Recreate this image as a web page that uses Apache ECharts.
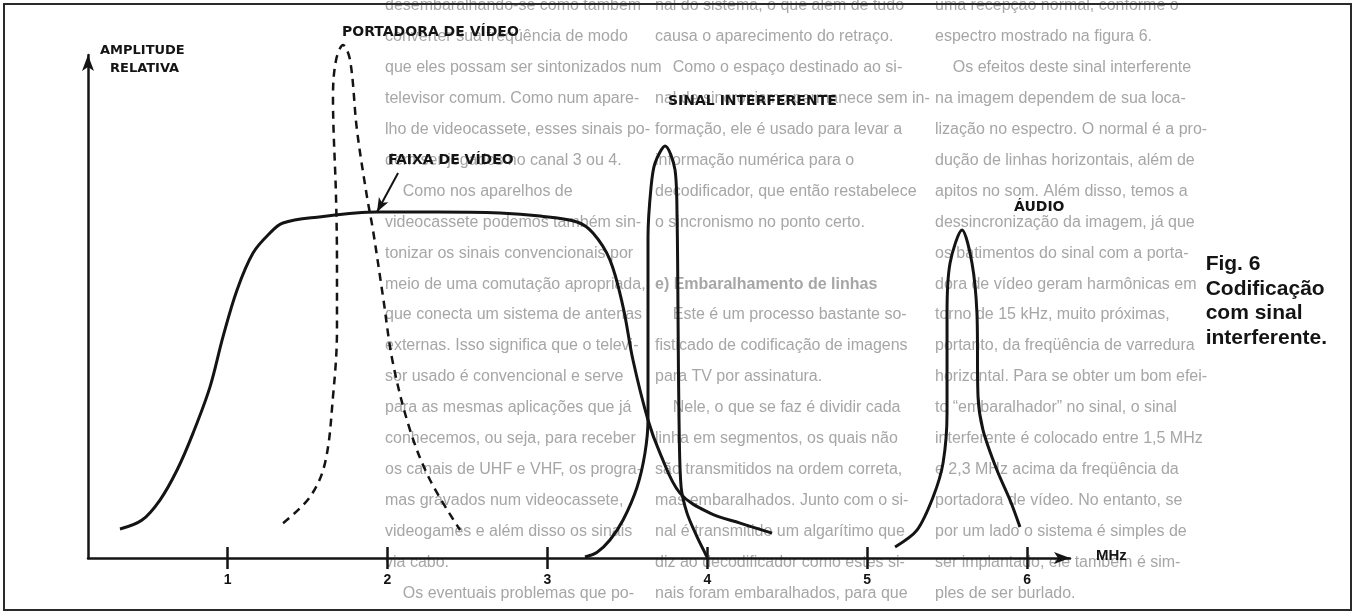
<!DOCTYPE html>
<html>
<head>
<meta charset="utf-8">
<script src="https://cdn.jsdelivr.net/npm/echarts@6/dist/echarts.min.js"></script>
<style>
  html, body { margin: 0; padding: 0; background: #ffffff; }
  #chart { width: 1356px; height: 615px; }
</style>
</head>
<body>
<div id="chart"></div>
<script>
// Frequency axis (MHz) tick labels
const mhzTicks = [1, 2, 3, 4, 5, 6];

// Video band response: [MHz, relative amplitude]
const videoBand = [
  [0.327, 0.084], [0.465, 0.110], [0.577, 0.168], [0.684, 0.255], [0.784, 0.362],
  [0.890, 0.496], [0.971, 0.641], [1.059, 0.777], [1.159, 0.884], [1.265, 0.942],
  [1.346, 0.971], [1.559, 0.988], [1.934, 1.003], [2.310, 1.003], [2.704, 1.000],
  [2.954, 0.991], [3.185, 0.974], [3.285, 0.942], [3.391, 0.864], [3.473, 0.728],
  [3.535, 0.574], [3.629, 0.400], [3.704, 0.304], [3.829, 0.188], [4.017, 0.130],
  [4.205, 0.101], [4.405, 0.072]
];

// Video carrier (dashed)
const videoCarrier = [
  [1.347, 0.101], [1.515, 0.177], [1.609, 0.275], [1.659, 0.467], [1.684, 0.661],
  [1.684, 0.855], [1.678, 1.046], [1.659, 1.336], [1.678, 1.443], [1.722, 1.487],
  [1.766, 1.443], [1.809, 1.241], [1.872, 1.046], [1.909, 0.951], [1.972, 0.757],
  [2.034, 0.565], [2.141, 0.371], [2.266, 0.226], [2.454, 0.081]
];

// Interfering signal
const interferingSignal = [
  [3.235, 0.003], [3.311, 0.017], [3.391, 0.052], [3.473, 0.110], [3.561, 0.206],
  [3.610, 0.304], [3.629, 0.400], [3.629, 0.690], [3.629, 0.930], [3.648, 1.075],
  [3.673, 1.145], [3.736, 1.194], [3.798, 1.125], [3.811, 0.980], [3.817, 0.690],
  [3.823, 0.400], [3.836, 0.206], [3.873, 0.130], [3.936, 0.061], [3.998, 0.003]
];

// Audio carrier
const audioCarrier = [
  [5.174, 0.032], [5.311, 0.081], [5.412, 0.177], [5.474, 0.275], [5.499, 0.420],
  [5.499, 0.710], [5.518, 0.855], [5.593, 0.951], [5.655, 0.855], [5.686, 0.710],
  [5.693, 0.467], [5.724, 0.371], [5.811, 0.255], [5.893, 0.168], [5.955, 0.090]
];

// Pointer from the "FAIXA DE VÍDEO" caption to the band
const bandPointer = [[2.066, 1.116], [1.934, 1.003]];

// Article text printed behind the figure (three columns)
const columnOne = [
  "desembaralhando-se como também",
  "converter sua freqüência de modo",
  "que eles possam ser sintonizados num",
  "televisor comum. Como num apare-",
  "lho de videocassete, esses sinais po-",
  "dem ser jogados no canal 3 ou 4.",
  "    Como nos aparelhos de",
  "videocassete podemos também sin-",
  "tonizar os sinais convencionais por",
  "meio de uma comutação apropriada,",
  "que conecta um sistema de antenas",
  "externas. Isso significa que o televi-",
  "sor usado é convencional e serve",
  "para as mesmas aplicações que já",
  "conhecemos, ou seja, para receber",
  "os canais de UHF e VHF, os progra-",
  "mas gravados num videocassete,",
  "videogames e além disso os sinais",
  "via cabo.",
  "    Os eventuais problemas que po-"
];
const columnTwo = [
  "nal do sistema, o que além de tudo",
  "causa o aparecimento do retraço.",
  "    Como o espaço destinado ao si-",
  "nal de sincronismo permanece sem in-",
  "formação, ele é usado para levar a",
  "informação numérica para o",
  "decodificador, que então restabelece",
  "o sincronismo no ponto certo.",
  "",
  "e) Embaralhamento de linhas",
  "    Este é um processo bastante so-",
  "fisticado de codificação de imagens",
  "para TV por assinatura.",
  "    Nele, o que se faz é dividir cada",
  "linha em segmentos, os quais não",
  "são transmitidos na ordem correta,",
  "mas embaralhados. Junto com o si-",
  "nal é transmitido um algarítimo que",
  "diz ao decodificador como estes si-",
  "nais foram embaralhados, para que"
];
const columnThree = [
  "uma recepção normal, conforme o",
  "espectro mostrado na figura 6.",
  "    Os efeitos deste sinal interferente",
  "na imagem dependem de sua loca-",
  "lização no espectro. O normal é a pro-",
  "dução de linhas horizontais, além de",
  "apitos no som. Além disso, temos a",
  "dessincronização da imagem, já que",
  "os batimentos do sinal com a porta-",
  "dora de vídeo geram harmônicas em",
  "torno de 15 kHz, muito próximas,",
  "portanto, da freqüência de varredura",
  "horizontal. Para se obter um bom efei-",
  "to “embaralhador” no sinal, o sinal",
  "interferente é colocado entre 1,5 MHz",
  "e 2,3 MHz acima da freqüência da",
  "portadora de vídeo. No entanto, se",
  "por um lado o sistema é simples de",
  "ser implantado, ele também é sim-",
  "ples de ser burlado."
];
const boldLines = ["e) Embaralhamento de linhas"];

const caption = ["Fig. 6", "Codificação", "com sinal", "interferente."];

const INK = '#141414';
const PAPER_TEXT = '#a6a6a6';
const LABEL_FONT = '"DejaVu Sans", sans-serif';

const chart = echarts.init(document.getElementById('chart'), null, { renderer: 'canvas' });

// background article text
const bodyText = [];
const columns = [
  { lines: columnOne, x: 385 },
  { lines: columnTwo, x: 655 },
  { lines: columnThree, x: 935 }
];
columns.forEach(col => {
  col.lines.forEach((line, i) => {
    if (!line) return;
    bodyText.push({
      type: 'text', z: 0, silent: true,
      left: col.x, top: 7 + i * 30.9 - 9,
      style: {
        text: line, fill: PAPER_TEXT,
        font: (boldLines.includes(line) ? 'bold ' : '') + '16px "Liberation Sans", Arial, sans-serif'
      }
    });
  });
});

function label(text, x, y, size) {
  return {
    type: 'text', z: 20, left: x, top: y - size / 2 - 1,
    style: { text, fill: INK, font: 'bold ' + size + 'px ' + LABEL_FONT }
  };
}

const curveLine = { color: INK, width: 3 };

chart.setOption({
  animation: false,
  backgroundColor: '#ffffff',
  grid: { left: 88, right: 286, top: 55, bottom: 57, containLabel: false },
  xAxis: [
    {
      type: 'value', min: 0.127, max: 6.268,
      axisLine: { show: true, onZero: false, symbol: ['none', 'arrow'], symbolSize: [9, 16],
                  lineStyle: { color: INK, width: 2.5 } },
      axisTick: { show: true, customValues: mhzTicks, length: 11, lineStyle: { color: INK, width: 2.5 } },
      axisLabel: { show: true, customValues: mhzTicks, margin: 15, color: INK,
                   fontSize: 14, fontWeight: 'bold', fontFamily: '"Liberation Sans", Arial, sans-serif' },
      splitLine: { show: false }
    },
    {
      type: 'value', min: 0.127, max: 6.268, position: 'bottom',
      axisLine: { show: false },
      axisTick: { show: true, inside: true, customValues: mhzTicks, length: 11, lineStyle: { color: INK, width: 2.5 } },
      axisLabel: { show: false },
      splitLine: { show: false }
    }
  ],
  yAxis: {
    type: 'value', min: 0, max: 1.458,
    axisLine: { show: true, symbol: ['none', 'arrow'], symbolSize: [9, 16],
                lineStyle: { color: INK, width: 2.5 } },
    axisTick: { show: false },
    axisLabel: { show: false },
    splitLine: { show: false }
  },
  series: [
    {
      name: 'Faixa de vídeo', type: 'line', data: videoBand, smooth: 0.35,
      showSymbol: false, clip: false, lineStyle: curveLine, z: 5,
      markLine: {
        silent: true, animation: false, symbol: ['none', 'arrow'], symbolSize: [8, 14],
        lineStyle: { color: INK, width: 2, type: 'solid' }, label: { show: false },
        data: [[{ coord: bandPointer[0] }, { coord: bandPointer[1] }]]
      }
    },
    {
      name: 'Portadora de vídeo', type: 'line', data: videoCarrier, smooth: 0.35,
      showSymbol: false, clip: false, z: 5,
      lineStyle: { color: INK, width: 2.5, type: [8, 6] }
    },
    {
      name: 'Sinal interferente', type: 'line', data: interferingSignal, smooth: 0.3,
      showSymbol: false, clip: false, lineStyle: curveLine, z: 5
    },
    {
      name: 'Áudio', type: 'line', data: audioCarrier, smooth: 0.3,
      showSymbol: false, clip: false, lineStyle: curveLine, z: 5
    }
  ],
  graphic: [
    { type: 'rect', z: 30, silent: true, shape: { x: 4, y: 4, width: 1347, height: 606 },
      style: { fill: 'none', stroke: '#2a2a2a', lineWidth: 2 } },
    ...bodyText,
    label('AMPLITUDE', 100, 52, 13),
    label('RELATIVA', 110, 70, 13),
    label('PORTADORA DE VÍDEO', 342, 33, 14),
    label('FAIXA DE VÍDEO', 388, 161, 14),
    label('SINAL INTERFERENTE', 668, 102, 14),
    label('ÁUDIO', 1014, 208, 14),
    {
      type: 'text', z: 20, left: 1096, top: 548,
      style: { text: 'MHz', fill: INK, font: 'bold 15px "Liberation Sans", Arial, sans-serif' }
    },
    {
      type: 'text', z: 20, right: 1356 - 1327, top: 252,
      style: {
        text: caption.join('\n'), fill: INK, align: 'right', lineHeight: 24.5,
        font: 'bold 21px "Liberation Sans", Arial, sans-serif'
      }
    }
  ]
});
</script>
</body>
</html>
